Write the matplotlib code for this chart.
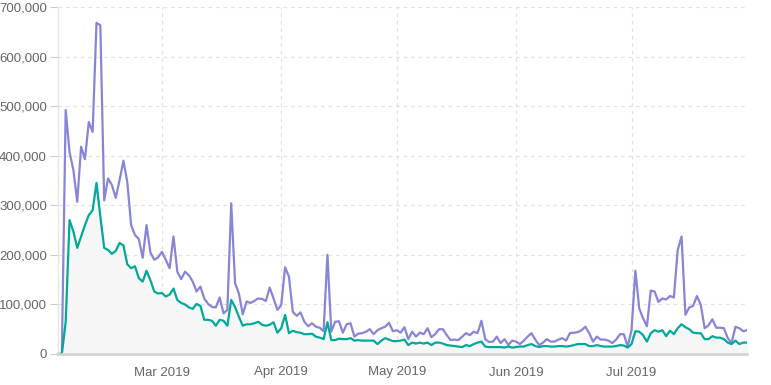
import pandas as pd
import numpy as np
import matplotlib
matplotlib.use("Agg")
import matplotlib.pyplot as plt
import matplotlib.dates as mdates
from matplotlib.ticker import FuncFormatter

# daily values (first day 2019-02-02)
start_date = "2019-02-02"

total = [0, 0, 492000, 407000, 371000, 307000, 418000, 393000, 468000, 448000,
         668000, 663000, 310000, 354000, 341000, 315000, 351000, 390000, 347000, 260000,
         240000, 232000, 194000, 260000, 205000, 190000, 195000, 206000, 190000, 173000,
         237000, 166000, 151000, 166000, 159000, 146000, 126000, 136000, 112000, 101000,
         95000, 94000, 114000, 82000, 89000, 304000, 143000, 122000, 80000, 106000,
         103000, 107000, 112000, 111000, 107000, 134000, 112000, 89000, 99000, 175000,
         156000, 85000, 77000, 84000, 65000, 56000, 62000, 55000, 53000, 46000,
         200000, 45000, 65000, 66000, 43000, 60000, 62000, 35000, 41000, 42000,
         45000, 50000, 40000, 48000, 52000, 55000, 63000, 46000, 48000, 43000,
         54000, 30000, 45000, 35000, 43000, 40000, 52000, 34000, 40000, 50000,
         50000, 38000, 28000, 29000, 28000, 35000, 42000, 38000, 45000, 42000,
         67000, 30000, 24000, 25000, 35000, 22000, 30000, 18000, 27000, 25000,
         20000, 27000, 35000, 42000, 29000, 18000, 23000, 30000, 25000, 25000,
         29000, 32000, 27000, 42000, 43000, 44000, 48000, 55000, 42000, 25000,
         35000, 29000, 29000, 27000, 22000, 29000, 40000, 40000, 15000, 48000,
         168000, 92000, 72000, 56000, 128000, 126000, 105000, 112000, 110000, 117000,
         114000, 210000, 237000, 79000, 94000, 97000, 117000, 99000, 52000, 58000,
         70000, 53000, 53000, 52000, 32000, 22000, 55000, 52000, 46000, 48000]

unique = [0, 0, 65000, 270000, 247000, 214000, 237000, 260000, 280000, 290000,
          345000, 277000, 214000, 210000, 202000, 208000, 224000, 219000, 181000, 173000,
          177000, 153000, 146000, 168000, 149000, 126000, 122000, 123000, 116000, 120000,
          132000, 109000, 103000, 100000, 94000, 91000, 101000, 97000, 69000, 69000,
          67000, 57000, 69000, 67000, 57000, 109000, 95000, 75000, 57000, 60000,
          60000, 62000, 65000, 59000, 57000, 59000, 64000, 43000, 52000, 79000,
          42000, 47000, 44000, 43000, 40000, 40000, 41000, 35000, 33000, 30000,
          64000, 28000, 28000, 31000, 30000, 30000, 32000, 27000, 28000, 27000,
          27000, 27000, 27000, 20000, 27000, 32000, 29000, 26000, 26000, 27000,
          29000, 18000, 23000, 21000, 23000, 21000, 23000, 18000, 23000, 23000,
          21000, 18000, 17000, 16000, 15000, 14000, 18000, 16000, 20000, 23000,
          25000, 15000, 14000, 14000, 14000, 14000, 13000, 15000, 13000, 14000,
          15000, 15000, 18000, 20000, 16000, 14000, 16000, 16000, 15000, 15000,
          16000, 16000, 15000, 16000, 18000, 20000, 20000, 20000, 16000, 16000,
          18000, 16000, 15000, 15000, 15000, 16000, 18000, 17000, 13000, 20000,
          46000, 45000, 38000, 25000, 42000, 48000, 45000, 48000, 36000, 47000,
          40000, 52000, 60000, 54000, 50000, 43000, 42000, 42000, 30000, 30000,
          36000, 33000, 33000, 30000, 23000, 20000, 27000, 20000, 23000, 23000]

dates = pd.date_range(start_date, periods=len(total), freq="D")

plt.rcParams['font.family'] = ['Liberation Sans', 'DejaVu Sans']

fig = plt.figure(figsize=(7.71, 3.85), dpi=100)
ax = fig.add_axes([58 / 771, 31 / 385, 689 / 771, 347 / 385])

ax.fill_between(dates, unique, 0, color="#f6f6f6", zorder=1)
ax.plot(dates, total, color="#8884d8", lw=1.6, zorder=3)
ax.plot(dates, unique, color="#00a99a", lw=1.6, zorder=3)

ax.set_xlim(dates[0], dates[-1])
ax.set_ylim(0, 700000)
ax.set_yticks(np.arange(0, 700001, 100000))
ax.yaxis.set_major_formatter(FuncFormatter(lambda v, p: f"{int(v):,}"))
ax.xaxis.set_major_locator(mdates.MonthLocator(bymonth=[3, 4, 5, 6, 7]))
ax.xaxis.set_major_formatter(mdates.DateFormatter("%b %Y"))

ax.grid(True, color="#e2e2e2", linestyle=(0, (3, 3)), lw=0.9, zorder=0)
ax.set_axisbelow(True)

for s in ["top", "right"]:
    ax.spines[s].set_visible(False)
ax.spines["left"].set_color("#e6e6e6")
ax.spines["left"].set_linewidth(1)
ax.spines["bottom"].set_color("#d4d4d4")
ax.spines["bottom"].set_linewidth(2)
ax.spines["bottom"].set_zorder(4)

ax.tick_params(axis="y", length=6, color="#cccccc", labelcolor="#666666",
               labelsize=9.5, pad=2)
ax.tick_params(axis="x", length=0, labelcolor="#666666", labelsize=9.5, pad=9)

fig.savefig("out.png", dpi=100, facecolor="white")
